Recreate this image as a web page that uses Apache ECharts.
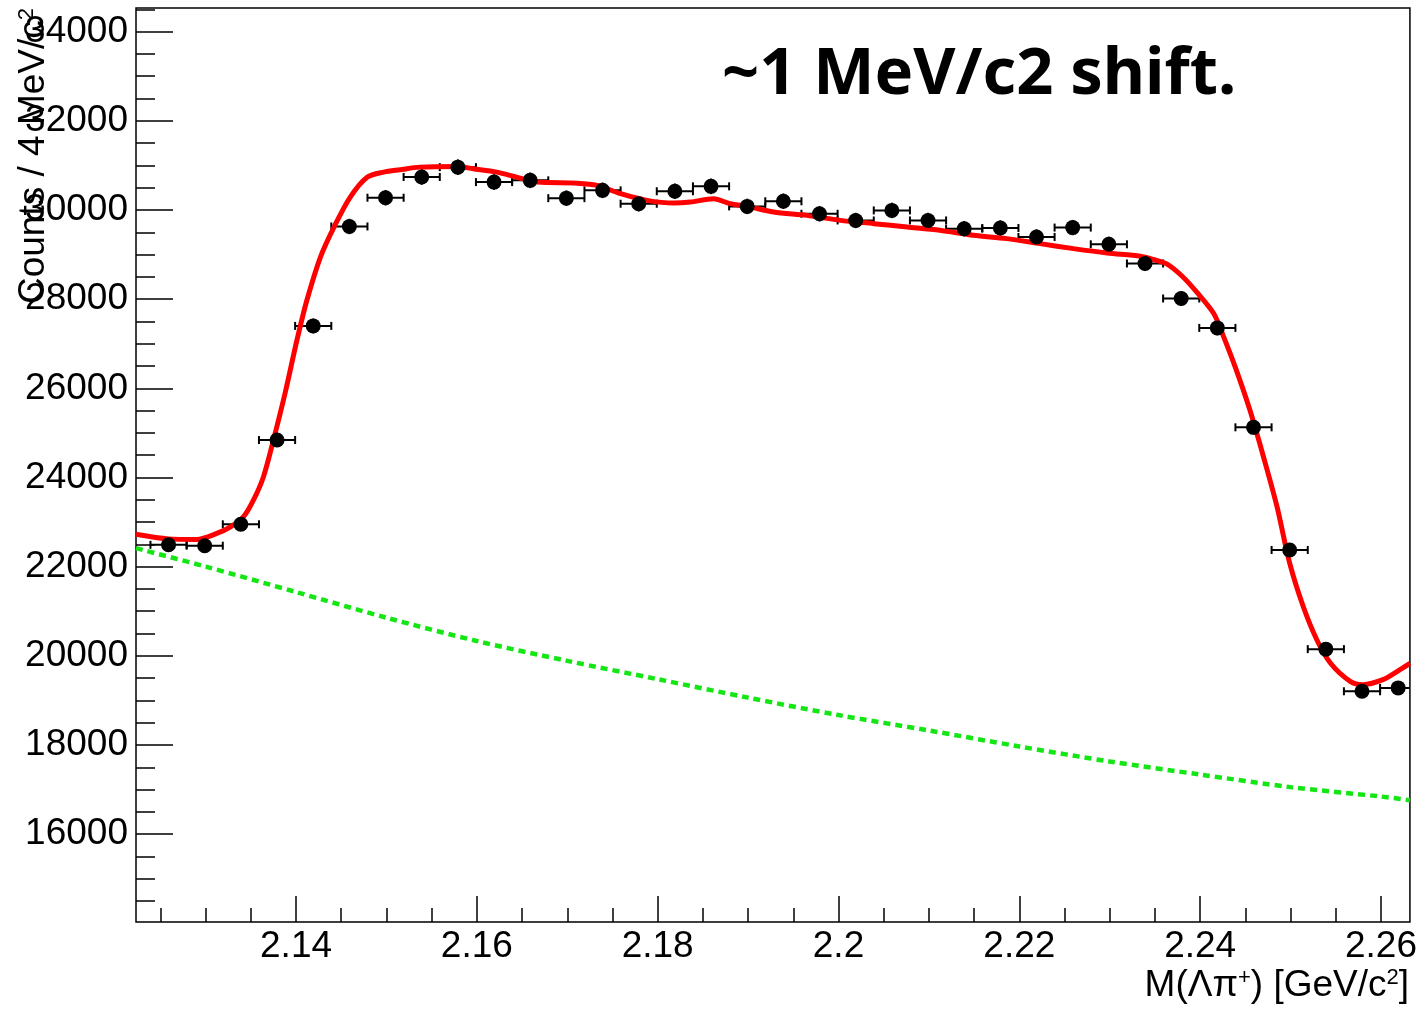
<!DOCTYPE html>
<html>
<head>
<meta charset="utf-8">
<script src="https://cdn.jsdelivr.net/npm/echarts@6/dist/echarts.min.js"></script>
<style>
html,body{margin:0;padding:0;background:#fff;}
#chart{width:1420px;height:1011px;}
</style>
</head>
<body>
<div id="chart"></div>
<script>
// ---- data ----
const binCenters = [2.1259, 2.1299, 2.1339, 2.1379, 2.1419, 2.1459, 2.1499, 2.1539, 2.1579, 2.1619,
  2.1659, 2.1699, 2.1739, 2.1779, 2.1819, 2.1859, 2.1899, 2.1939, 2.1979, 2.2019,
  2.2059, 2.2099, 2.2139, 2.2179, 2.2219, 2.2259, 2.2299, 2.2339, 2.2379, 2.2419,
  2.2459, 2.2499, 2.2539, 2.2579, 2.2619];
const counts = [22490, 22470, 22950, 24840, 27400, 29630, 30275, 30740, 30960, 30625,
  30665, 30265, 30440, 30140, 30420, 30530, 30080, 30195, 29915, 29765,
  29990, 29765, 29580, 29595, 29395, 29605, 29230, 28800, 28015, 27355,
  25125, 22375, 20150, 19205, 19280];
const binHalfWidth = 0.002;

const fitMass = [2.1223, 2.1259, 2.1290, 2.1313, 2.1327, 2.1342, 2.1353, 2.1364, 2.1375, 2.1388,
  2.1401, 2.1412, 2.1427, 2.1442, 2.1460, 2.1479, 2.1497, 2.1515, 2.1537, 2.1578,
  2.1596, 2.1622, 2.1644, 2.1667, 2.1711, 2.1733, 2.1759, 2.1788, 2.1818, 2.1836,
  2.1862, 2.1880, 2.1899, 2.1928, 2.1965, 2.2002, 2.2039, 2.2076, 2.2112, 2.2149,
  2.2186, 2.2223, 2.2260, 2.2297, 2.2334, 2.2348, 2.2363, 2.2381, 2.2396, 2.2415,
  2.2426, 2.2440, 2.2455, 2.2470, 2.2485, 2.2499, 2.2514, 2.2529, 2.2544, 2.2566,
  2.2580, 2.2602, 2.2621, 2.2632];
const fitValues = [22728, 22623, 22610, 22750, 22885, 23122, 23496, 24018, 24840, 25900,
  27080, 27975, 28945, 29617, 30289, 30737, 30849, 30902, 30961, 30977,
  30925, 30849, 30737, 30625, 30602, 30551, 30365, 30215, 30154, 30177,
  30253, 30141, 30081, 29953, 29879, 29767, 29693, 29617, 29543, 29431,
  29357, 29245, 29133, 29035, 28961, 28890, 28790, 28497, 28161, 27677,
  27153, 26408, 25512, 24466, 23346, 22078, 21106, 20361, 19839, 19427,
  19353, 19465, 19689, 19830];

const bkgMass = [2.1223, 2.13, 2.14, 2.15, 2.16, 2.17, 2.18, 2.19, 2.20, 2.21,
  2.22, 2.23, 2.24, 2.25, 2.26, 2.2632];
const bkgValues = [22414, 22002, 21431, 20855, 20332, 19887, 19476, 19062, 18671, 18326,
  17967, 17630, 17337, 17055, 16844, 16761];

const massTicks = [2.14, 2.16, 2.18, 2.2, 2.22, 2.24, 2.26];
const massMinorTicks = [2.125, 2.13, 2.135, 2.145, 2.15, 2.155, 2.165, 2.17, 2.175,
  2.185, 2.19, 2.195, 2.205, 2.21, 2.215, 2.225, 2.23, 2.235, 2.245, 2.25, 2.255];
const countTicks = [16000, 18000, 20000, 22000, 24000, 26000, 28000, 30000, 32000, 34000];
const countMinorTicks = [14500, 15000, 15500, 16500, 17000, 17500, 18500, 19000, 19500,
  20500, 21000, 21500, 22500, 23000, 23500, 24500, 25000, 25500, 26500, 27000, 27500,
  28500, 29000, 29500, 30500, 31000, 31500, 32500, 33000, 33500, 34500];

const xRange = [2.1223, 2.2632];
const yRange = [14030, 34530];

const annotationText = '~1 MeV/c2 shift.';
// ---------------------------------------

const chart = echarts.init(document.getElementById('chart'), null, {renderer: 'canvas'});
const FONT = '"Liberation Sans", Arial, Helvetica, sans-serif';

const pointData = binCenters.map((m, i) => [m, counts[i], Math.sqrt(counts[i])]);

function errRender(params, api) {
  const x = api.value(0), y = api.value(1), e = api.value(2);
  const l = api.coord([x - binHalfWidth, y]);
  const r = api.coord([x + binHalfWidth, y]);
  const t = api.coord([x, y + e]);
  const b = api.coord([x, y - e]);
  const cap = 4;
  const st = {stroke: '#000', lineWidth: 2};
  return {
    type: 'group',
    children: [
      {type: 'line', shape: {x1: l[0], y1: l[1], x2: r[0], y2: r[1]}, style: st},
      {type: 'line', shape: {x1: l[0], y1: l[1] - cap, x2: l[0], y2: l[1] + cap}, style: st},
      {type: 'line', shape: {x1: r[0], y1: r[1] - cap, x2: r[0], y2: r[1] + cap}, style: st},
      {type: 'line', shape: {x1: t[0], y1: t[1], x2: b[0], y2: b[1]}, style: st}
    ]
  };
}

const labelFmt = v => String(+(+v).toFixed(3));
const countFmt = v => String(Math.round(+v));

const option = {
  animation: false,
  backgroundColor: '#fff',
  grid: {left: 136, right: 10, top: 8, bottom: 89, show: true, borderColor: '#000', borderWidth: 1.5, backgroundColor: 'transparent'},
  xAxis: [
    {type: 'value', min: xRange[0], max: xRange[1],
     axisLine: {show: false},
     axisTick: {show: true, inside: true, length: 26, customValues: massTicks, lineStyle: {color: '#000', width: 1.5}},
     axisLabel: {customValues: massTicks, formatter: labelFmt, fontSize: 37, fontFamily: FONT, color: '#000', margin: 6},
     splitLine: {show: false}},
    {type: 'value', min: xRange[0], max: xRange[1], position: 'bottom',
     axisLine: {show: false},
     axisTick: {show: true, inside: true, length: 14, customValues: massMinorTicks, lineStyle: {color: '#000', width: 1.5}},
     axisLabel: {show: false},
     splitLine: {show: false}}
  ],
  yAxis: [
    {type: 'value', min: yRange[0], max: yRange[1],
     axisLine: {show: false},
     axisTick: {show: true, inside: true, length: 37, customValues: countTicks, lineStyle: {color: '#000', width: 1.5}},
     axisLabel: {customValues: countTicks, formatter: countFmt, fontSize: 37, fontFamily: FONT, color: '#000', margin: 8},
     splitLine: {show: false}},
    {type: 'value', min: yRange[0], max: yRange[1], position: 'left',
     axisLine: {show: false},
     axisTick: {show: true, inside: true, length: 19, customValues: countMinorTicks, lineStyle: {color: '#000', width: 1.5}},
     axisLabel: {show: false},
     splitLine: {show: false}}
  ],
  series: [
    {type: 'line', name: 'background', xAxisIndex: 0, yAxisIndex: 0,
     data: bkgMass.map((m, i) => [m, bkgValues[i]]),
     showSymbol: false, smooth: 0.3, z: 2,
     lineStyle: {color: '#14e614', width: 4.5, type: [7, 5]}},
    {type: 'custom', name: 'errors', xAxisIndex: 0, yAxisIndex: 0,
     data: pointData, renderItem: errRender, clip: true, z: 3},
    {type: 'line', name: 'fit', xAxisIndex: 0, yAxisIndex: 0,
     data: fitMass.map((m, i) => [m, fitValues[i]]),
     showSymbol: false, smooth: 0.3, z: 4,
     lineStyle: {color: '#ff0000', width: 5}},
    {type: 'scatter', name: 'data', xAxisIndex: 0, yAxisIndex: 0,
     data: pointData.map(p => [p[0], p[1]]),
     symbol: 'circle', symbolSize: 15, z: 5,
     itemStyle: {color: '#000', opacity: 1}}
  ],
  graphic: [
    {type: 'text', left: 722, top: 43, z: 100,
     style: {text: annotationText, font: 'bold 65px "Noto Sans", "Open Sans", sans-serif', fill: '#000'}},
    {type: 'text', x: 1409, y: 1004, z: 100,
     style: {
       text: 'M(Λπ{sup|+}) [GeV/c{sup|2}]',
       align: 'right', verticalAlign: 'bottom',
       fontSize: 37, fontFamily: FONT, fill: '#000',
       rich: {sup: {fontSize: 22, fontFamily: FONT, verticalAlign: 'top', padding: [0, 0, 14, 0]}}
     }},
    {type: 'text', x: 34, y: 8, rotation: Math.PI / 2, z: 100,
     style: {
       text: 'Counts / 4 MeV/c{sup|2}',
       align: 'right', verticalAlign: 'middle',
       fontSize: 37, fontFamily: FONT, fill: '#000',
       rich: {sup: {fontSize: 22, fontFamily: FONT, verticalAlign: 'top', padding: [0, 0, 14, 0]}}
     }}
  ]
};
chart.setOption(option);
</script>
</body>
</html>
